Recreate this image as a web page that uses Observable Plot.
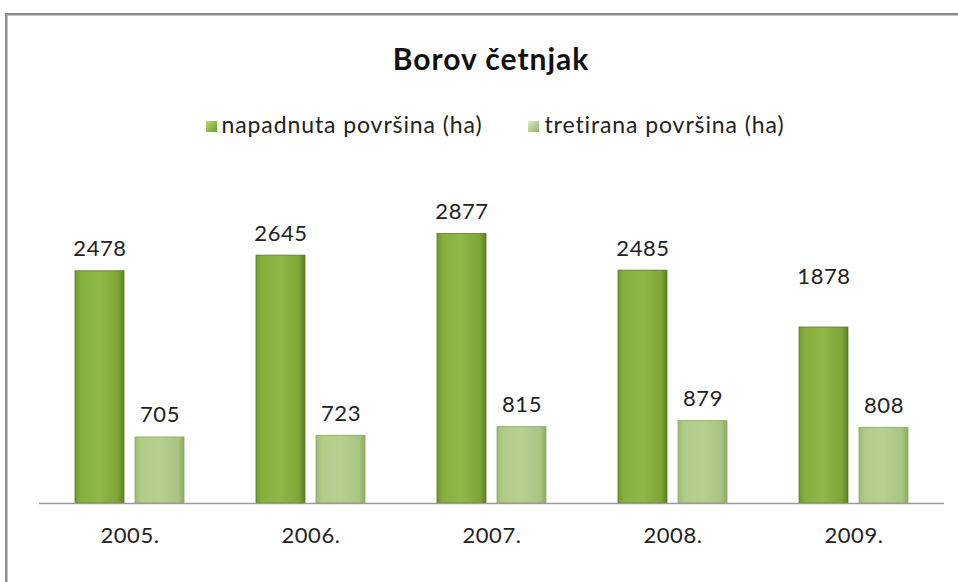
<!DOCTYPE html>
<html><head><meta charset="utf-8">
<script src="https://cdn.jsdelivr.net/npm/d3@7"></script>
<script src="https://cdn.jsdelivr.net/npm/@observablehq/plot@0.6"></script>
<style>
body{margin:0;background:#fff;font-family:Lato,"Open Sans",sans-serif;color:#222}
#wrap{position:relative;width:958px;height:582px;overflow:hidden;background:#fff}
#frame{position:absolute;left:5px;top:13px;width:1000px;height:1000px;border-left:2px solid #8c8c8c;border-top:2px solid #8c8c8c;box-shadow:inset 1px 1px 0 #c8c8c8}
#chart{position:absolute;left:0;top:0}
#title{position:absolute;top:40px;left:0;width:982px;text-align:center;font-weight:bold;font-size:30px;letter-spacing:1px;color:#111}
#legend{position:absolute;top:110px;left:0;width:990px;display:flex;justify-content:center;gap:46px;font-size:23px;letter-spacing:0.9px;color:#222}
#legend span.sw{display:inline-block;width:11px;height:11px;margin-right:5px;vertical-align:1px}
svg text{letter-spacing:0.6px}
</style></head>
<body><div id="wrap"><div id="frame"></div><div id="chart"></div><div id="title">Borov četnjak</div><div id="legend"></div></div>
<script>
const years = ["2005.","2006.","2007.","2008.","2009."];
const series = ["napadnuta površina (ha)","tretirana površina (ha)"];
const napadnuta = [2478,2645,2877,2485,1878];
const tretirana = [705,723,815,879,808];

const data = [];
years.forEach((y,i)=>{
  data.push({year:y, series:series[0], value:napadnuta[i]});
  data.push({year:y, series:series[1], value:tretirana[i]});
});
const swatch = {[series[0]]:"linear-gradient(135deg,#b8dc6a,#6e9a2c)", [series[1]]:"linear-gradient(135deg,#dcebc2,#93b46a)"};

const chart = Plot.plot({
  width:958, height:582,
  marginLeft:38, marginRight:14, marginTop:175, marginBottom:79,
  style:{fontFamily:"Lato, 'Open Sans', sans-serif", fontSize:"22px", color:"#222", background:"transparent"},
  fx:{domain:years, padding:0, label:null},
  x:{domain:series, paddingInner:0.18, paddingOuter:0.574, axis:null},
  y:{domain:[0,3500], axis:null},
  marks:[
    Plot.barY(data.filter(d=>d.series===series[0]), {fx:"year", x:"series", y:"value", fill:"url(#gDark)", stroke:"#5b7d22", strokeWidth:0.8}),
    Plot.barY(data.filter(d=>d.series===series[1]), {fx:"year", x:"series", y:"value", fill:"url(#gLight)", stroke:"#8aa862", strokeWidth:0.8}),
    Plot.ruleY([0], {stroke:"#9a9a9a", strokeWidth:1.5}),
    Plot.text(data.filter(d=>d.value!==1878), {fx:"year", x:"series", y:"value", text:d=>String(d.value), lineAnchor:"bottom", dy:-15, fontSize:22, fill:"#222"}),
    Plot.text(data.filter(d=>d.value===1878), {fx:"year", x:"series", y:"value", text:d=>String(d.value), lineAnchor:"bottom", dy:-44, fontSize:22, fill:"#222"}),
    Plot.axisFx({anchor:"bottom", tickSize:0, tickPadding:24, fontSize:22, label:null})
  ]
});
const svg = d3.select(chart);
const defs = svg.insert("defs", ":first-child");
function grad(id, stops){
  const g = defs.append("linearGradient").attr("id", id).attr("x1","0").attr("x2","1").attr("y1","0").attr("y2","0");
  stops.forEach(([o,c])=>g.append("stop").attr("offset",o).attr("stop-color",c));
}
grad("gDark", [[0,"#6f9a2e"],[0.12,"#86b03e"],[0.5,"#8fb848"],[0.88,"#7ea537"],[1,"#5a7f22"]]);
grad("gLight", [[0,"#9cbd74"],[0.12,"#b0cd88"],[0.5,"#b6d08f"],[0.88,"#a9c582"],[1,"#8cab62"]]);
document.getElementById("chart").appendChild(chart);

const leg = d3.select("#legend");
series.forEach(s=>{
  const it = leg.append("div");
  it.append("span").attr("class","sw").style("background", swatch[s]);
  it.append("span").text(s);
});
</script>
</body></html>
